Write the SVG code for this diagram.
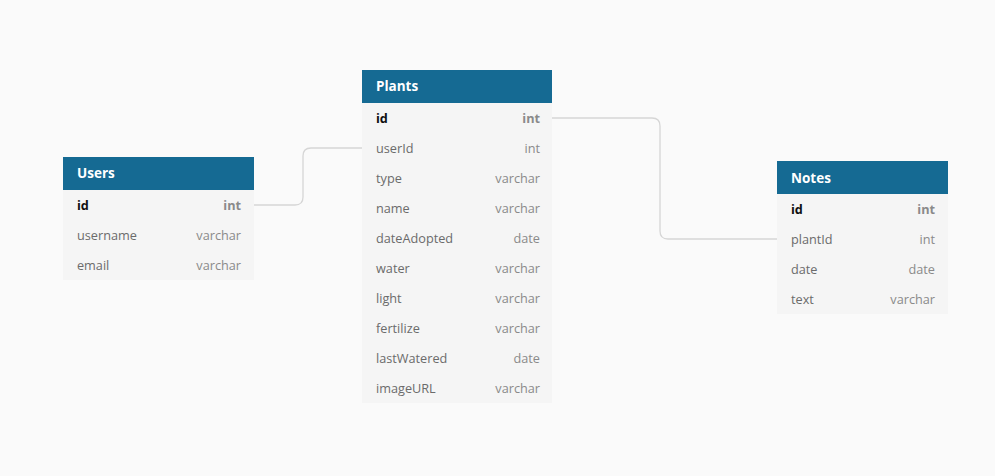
<svg xmlns="http://www.w3.org/2000/svg" width="995" height="476" viewBox="0 0 995 476">
<style>
.bg{fill:#fafafa}
.hd{fill:#156a93}
.row{fill:#f5f5f5}
.title{font-family:"Open Sans",sans-serif;font-size:13.5px;font-weight:bold;fill:#ffffff}
.name{font-family:"Open Sans",sans-serif;font-size:12.7px;fill:#6b6b6b}
.type{font-family:"Open Sans",sans-serif;font-size:12.7px;fill:#8a8a8a;text-anchor:end}
.pk{font-family:"Open Sans",sans-serif;font-size:12.7px;font-weight:bold;fill:#111111}
.pkt{font-family:"Open Sans",sans-serif;font-size:12.7px;font-weight:bold;fill:#8a8a8a;text-anchor:end}
.conn{fill:none;stroke:#d6d6d6;stroke-width:1.3}
</style>
<rect class="bg" x="0" y="0" width="995" height="476"/>
<g id="connectors">
<path class="conn" d="M254,205 H295 Q303,205 303,197 V156 Q303,148 311,148 H362"/>
<path class="conn" d="M552,118 H652 Q660,118 660,126 V231 Q660,239 668,239 H777"/>
</g>
<g id="Users">
<rect class="row" x="63" y="190" width="191" height="90"/>
<rect class="hd" x="63" y="157" width="191" height="33"/>
<text class="title" x="77" y="178">Users</text>
<text class="pk" x="77" y="210">id</text><text class="pkt" x="241" y="210">int</text>
<text class="name" x="77" y="240">username</text><text class="type" x="241" y="240">varchar</text>
<text class="name" x="77" y="270">email</text><text class="type" x="241" y="270">varchar</text>
</g>
<g id="Plants">
<rect class="row" x="362" y="103" width="190" height="300"/>
<rect class="hd" x="362" y="70" width="190" height="33"/>
<text class="title" x="376" y="91">Plants</text>
<text class="pk" x="376" y="123">id</text><text class="pkt" x="540" y="123">int</text>
<text class="name" x="376" y="153">userId</text><text class="type" x="540" y="153">int</text>
<text class="name" x="376" y="183">type</text><text class="type" x="540" y="183">varchar</text>
<text class="name" x="376" y="213">name</text><text class="type" x="540" y="213">varchar</text>
<text class="name" x="376" y="243">dateAdopted</text><text class="type" x="540" y="243">date</text>
<text class="name" x="376" y="273">water</text><text class="type" x="540" y="273">varchar</text>
<text class="name" x="376" y="303">light</text><text class="type" x="540" y="303">varchar</text>
<text class="name" x="376" y="333">fertilize</text><text class="type" x="540" y="333">varchar</text>
<text class="name" x="376" y="363">lastWatered</text><text class="type" x="540" y="363">date</text>
<text class="name" x="376" y="393">imageURL</text><text class="type" x="540" y="393">varchar</text>
</g>
<g id="Notes">
<rect class="row" x="777" y="194" width="171" height="120"/>
<rect class="hd" x="777" y="161" width="171" height="33"/>
<text class="title" x="791" y="183">Notes</text>
<text class="pk" x="791" y="214">id</text><text class="pkt" x="935" y="214">int</text>
<text class="name" x="791" y="244">plantId</text><text class="type" x="935" y="244">int</text>
<text class="name" x="791" y="274">date</text><text class="type" x="935" y="274">date</text>
<text class="name" x="791" y="304">text</text><text class="type" x="935" y="304">varchar</text>
</g>
</svg>
